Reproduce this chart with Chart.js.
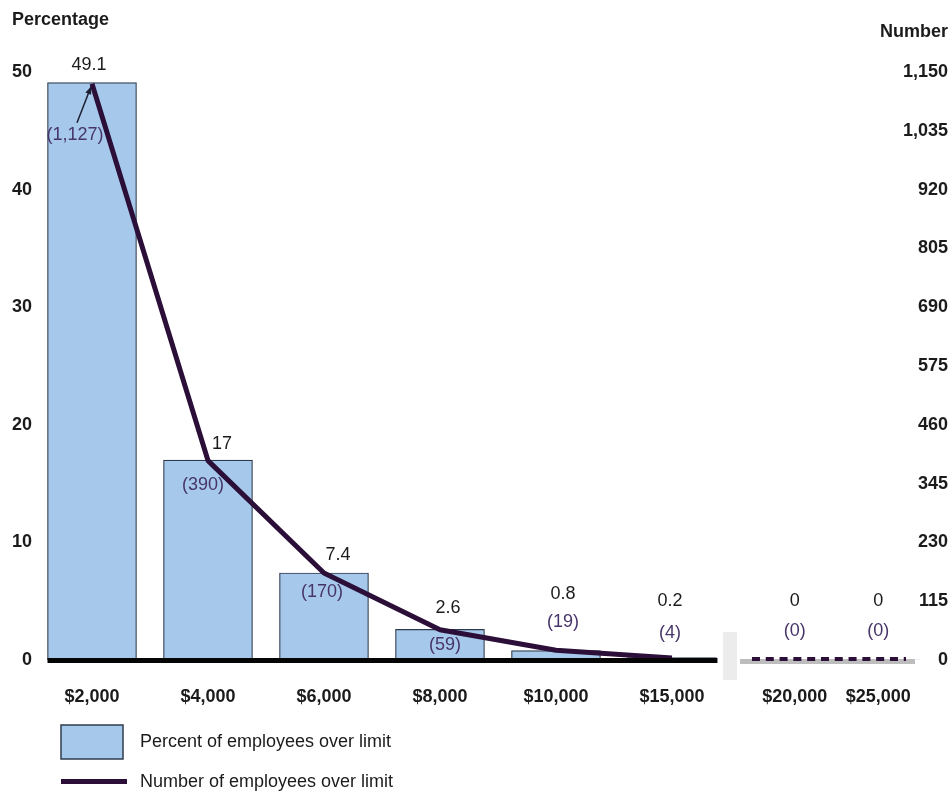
<!DOCTYPE html>
<html>
<head>
<meta charset="utf-8">
<title>Employees over limit</title>
<script src="https://cdn.jsdelivr.net/npm/chart.js@4/dist/chart.umd.min.js"></script>
<style>
  html, body { margin: 0; padding: 0; background: #ffffff; }
  #wrap { width: 952px; height: 792px; }
</style>
</head>
<body>
<div id="wrap"><canvas id="c" width="952" height="792"></canvas></div>
<script>
// ---- data ----
const categories = ['$2,000', '$4,000', '$6,000', '$8,000', '$10,000', '$15,000', '$20,000', '$25,000'];
const percentOverLimit = [49.1, 17, 7.4, 2.6, 0.8, 0.2, 0, 0];
const numberOverLimit = [1127, 390, 170, 59, 19, 4, 0, 0];
const seriesNames = ['Percent of employees over limit', 'Number of employees over limit'];
const axisTitles = ['Percentage', 'Number'];
const percentAxis = { min: 0, max: 50, step: 10 };
const numberAxis = { min: 0, max: 1150, step: 115 };
const BREAK_AFTER = 6; // categories drawn before the axis break

// ---- label placement (pixel nudges relative to the mark) ----
const pctLabelNudge = [[-3, -18], [14, -16], [14, -18], [8, -21], [7, -57], [-2, -57], [0, -59], [0, -59]];
const cntLabelNudge = [[-17, 51], [-5, 24], [-2, 19], [5, 15], [7, -28], [-2, -25], [0, -29], [0, -29]];

// ---- styling ----
const FONT = '"Liberation Sans", Arial, Helvetica, sans-serif';
const BAR_FILL = '#a6c9eb';
const BAR_EDGE = '#2e3b4e';
const LINE_COLOR = '#2b0f38';
const NUM_COLOR = '#47356a';
const TEXT = '#1b1b1b';

// Category axis with a break: the categories after the break are packed
// into narrower slots separated by a gap.
class BrokenCategoryScale extends Chart.CategoryScale {
  _breakLayout() {
    const o = this.options;
    const n = this.getLabels().length;
    const split = o.breakAfter;
    const w = (this._length - o.breakGap) / (split + o.tailRatio * (n - split));
    return { n, split, w };
  }
  getPixelForDecimal(decimal) {
    const { n, split, w } = this._breakLayout();
    const pos = decimal * n;
    if (pos <= split) return this._startPixel + pos * w;
    return this._startPixel + split * w + this.options.breakGap + (pos - split) * w * this.options.tailRatio;
  }
  getBreakPixel() {
    const { split, w } = this._breakLayout();
    return this._startPixel + split * w;
  }
}
BrokenCategoryScale.id = 'brokenCategory';
BrokenCategoryScale.defaults = Chart.CategoryScale.defaults;
Chart.register(BrokenCategoryScale);

// Baselines, break marker and the dashed zero line for the tail categories
const axisDecor = {
  id: 'axisDecor',
  afterDatasetsDraw(chart) {
    const { ctx, chartArea } = chart;
    const x = chart.scales.x, y = chart.scales.y;
    const half = chart.data.datasets[1].barThickness / 2;
    const y0 = y.getPixelForValue(0);
    const brk = x.getBreakPixel();
    const tailStart = brk + x.options.breakGap;
    ctx.save();
    // black baseline under the bars
    ctx.fillStyle = '#050505';
    const bl = x.getPixelForValue(0) - half;
    const br = x.getPixelForValue(BREAK_AFTER - 1) + half + 1;
    ctx.fillRect(bl, y0 - 2, br - bl, 5);
    // grey baseline after the break
    ctx.fillStyle = '#bdbdbd';
    ctx.fillRect(tailStart - 13, y0 - 1, chartArea.right - 5 - (tailStart - 13), 5);
    // break marker
    ctx.fillStyle = '#ececec';
    ctx.fillRect(brk - 7, y0 - 28, 14, 48);
    // dashed zero line for the number series
    ctx.strokeStyle = LINE_COLOR;
    ctx.lineWidth = 4;
    ctx.setLineDash([8, 5.8]);
    ctx.beginPath();
    ctx.moveTo(tailStart - 1, y0 - 1);
    ctx.lineTo(chartArea.right - 14, y0 - 1);
    ctx.stroke();
    ctx.restore();
  }
};

// Value labels: percent above the bars, employee counts in parentheses
const valueLabels = {
  id: 'valueLabels',
  afterDatasetsDraw(chart) {
    const { ctx } = chart;
    const x = chart.scales.x, y = chart.scales.y, y2 = chart.scales.y2;
    ctx.save();
    ctx.font = '18px ' + FONT;
    ctx.textAlign = 'center';
    ctx.textBaseline = 'middle';
    percentOverLimit.forEach((v, i) => {
      const cx = x.getPixelForValue(i);
      const top = y.getPixelForValue(v);
      ctx.fillStyle = TEXT;
      ctx.fillText(String(v), cx + pctLabelNudge[i][0], top + pctLabelNudge[i][1]);

      const n = numberOverLimit[i];
      const py = y2.getPixelForValue(n);
      const lx = cx + cntLabelNudge[i][0], ly = py + cntLabelNudge[i][1];
      ctx.fillStyle = NUM_COLOR;
      ctx.fillText('(' + n.toLocaleString('en-US') + ')', lx, ly);
      if (i === 0) {
        // arrow from the callout to the peak
        const sx = lx + 2, sy = ly - 12, ex = cx - 1, ey = py + 3;
        ctx.strokeStyle = '#1d1d30';
        ctx.fillStyle = '#1d1d30';
        ctx.lineWidth = 1.5;
        ctx.beginPath();
        ctx.moveTo(sx, sy);
        ctx.lineTo(ex, ey);
        ctx.stroke();
        const a = Math.atan2(ey - sy, ex - sx);
        ctx.beginPath();
        ctx.moveTo(ex, ey);
        ctx.lineTo(ex - 8 * Math.cos(a - 0.4), ey - 8 * Math.sin(a - 0.4));
        ctx.lineTo(ex - 8 * Math.cos(a + 0.4), ey - 8 * Math.sin(a + 0.4));
        ctx.closePath();
        ctx.fill();
      }
    });
    ctx.restore();
  }
};

// Axis headings and the two-row legend
const headings = {
  id: 'headings',
  afterDraw(chart) {
    const { ctx } = chart;
    ctx.save();
    ctx.fillStyle = TEXT;
    ctx.font = 'bold 18px ' + FONT;
    ctx.textBaseline = 'middle';
    ctx.textAlign = 'left';
    ctx.fillText(axisTitles[0], 12, 20);
    ctx.textAlign = 'right';
    ctx.fillText(axisTitles[1], 948, 32);

    ctx.font = '18px ' + FONT;
    ctx.textAlign = 'left';
    // bar swatch
    ctx.fillStyle = BAR_FILL;
    ctx.fillRect(61, 725, 62, 34);
    ctx.strokeStyle = BAR_EDGE;
    ctx.lineWidth = 1.5;
    ctx.strokeRect(61, 725, 62, 34);
    ctx.fillStyle = TEXT;
    ctx.fillText(seriesNames[0], 140, 742);
    // line swatch
    ctx.fillStyle = LINE_COLOR;
    ctx.fillRect(61, 779, 66, 5);
    ctx.fillStyle = TEXT;
    ctx.fillText(seriesNames[1], 140, 782);
    ctx.restore();
  }
};

new Chart(document.getElementById('c'), {
  type: 'bar',
  data: {
    labels: categories,
    datasets: [
      {
        type: 'line',
        label: seriesNames[1],
        data: numberOverLimit.map((v, i) => (i < BREAK_AFTER ? v : null)),
        yAxisID: 'y2',
        borderColor: LINE_COLOR,
        borderWidth: 5,
        borderJoinStyle: 'round',
        tension: 0,
        pointRadius: 0,
        fill: false,
        order: 0
      },
      {
        type: 'bar',
        label: seriesNames[0],
        data: percentOverLimit,
        yAxisID: 'y',
        backgroundColor: BAR_FILL,
        borderColor: BAR_EDGE,
        borderWidth: (c) => (c.raw > 0 ? 1.2 : 0),
        borderSkipped: 'bottom',
        barThickness: 89,
        order: 1
      }
    ]
  },
  options: {
    responsive: false,
    animation: false,
    devicePixelRatio: 1,
    events: [],
    layout: { padding: { top: 72, right: 4, bottom: 84, left: 0 } },
    plugins: { legend: { display: false }, tooltip: { enabled: false } },
    scales: {
      x: {
        type: 'brokenCategory',
        offset: true,
        breakAfter: BREAK_AFTER,
        breakGap: 23,
        tailRatio: 0.72,
        grid: { display: false, drawTicks: false },
        border: { display: false },
        ticks: {
          autoSkip: false, maxRotation: 0, padding: 26,
          color: TEXT, font: { family: FONT, size: 18, weight: 'bold' }
        },
        afterFit: (s) => { s.height = 48; }
      },
      y: {
        position: 'left',
        min: percentAxis.min, max: percentAxis.max,
        grid: { display: false, drawTicks: false },
        border: { display: false },
        ticks: {
          stepSize: percentAxis.step, padding: 2,
          color: TEXT, font: { family: FONT, size: 18, weight: 'bold' }
        },
        afterFit: (s) => { s.width = 34; }
      },
      y2: {
        position: 'right',
        min: numberAxis.min, max: numberAxis.max,
        grid: { display: false, drawTicks: false },
        border: { display: false },
        ticks: {
          stepSize: numberAxis.step, padding: 28, mirror: true, crossAlign: 'near',
          color: TEXT, font: { family: FONT, size: 18, weight: 'bold' },
          callback: (v) => Number(v).toLocaleString('en-US')
        },
        afterFit: (s) => { s.width = 28; }
      }
    }
  },
  plugins: [axisDecor, valueLabels, headings]
});
</script>
</body>
</html>
